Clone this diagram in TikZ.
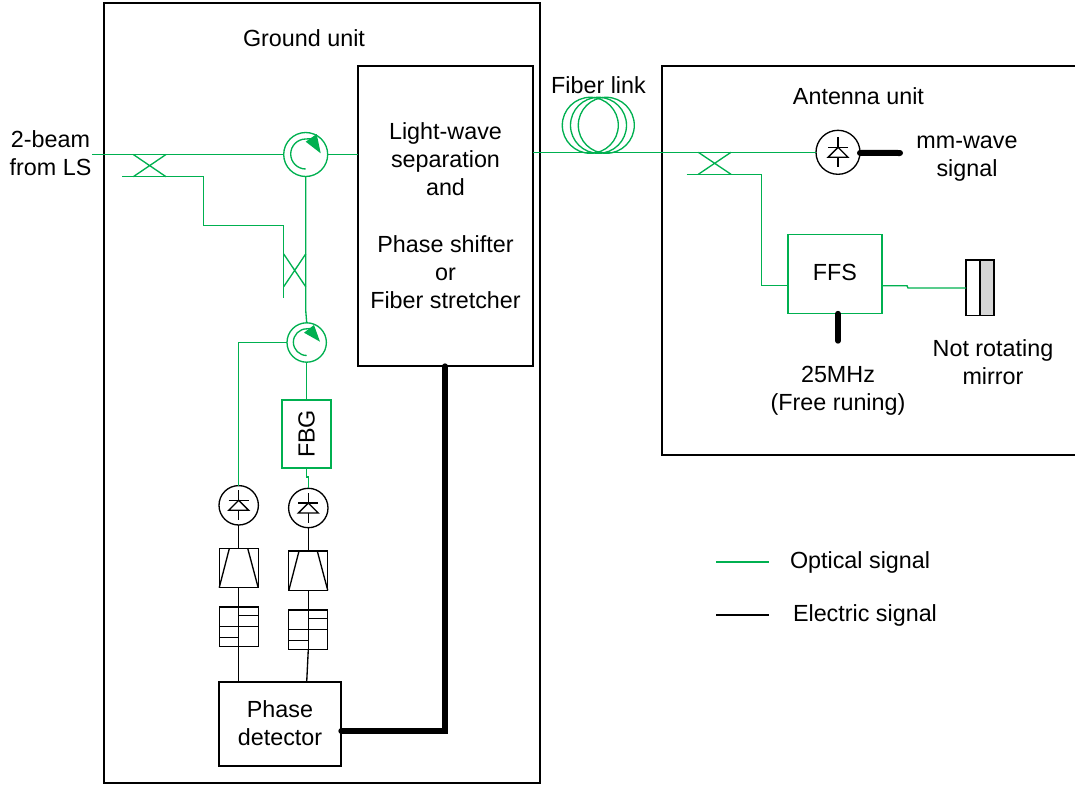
\documentclass[tikz,border=0pt]{standalone}
\usepackage{fontspec}
\setmainfont{Liberation Sans}
\begin{document}
\begin{tikzpicture}[x=0.75pt,y=-0.75pt,
  every node/.style={inner sep=0pt,outer sep=0pt,font=\fontsize{17.5}{21}\selectfont,align=center},
  glink/.style={draw=optgreen,line width=1pt},
  blink/.style={draw=black,line width=1pt},
  thick link/.style={draw=black,line width=4pt,line cap=round},
  blackbox/.style={draw=black,line width=1pt,rectangle},
  greenbox/.style={draw=optgreen,line width=1pt,rectangle},
  ringnode/.style={draw=optgreen,line width=1pt,circle,minimum size=#1*0.75pt},
  pdnode/.style={draw=black,line width=1pt,circle,fill=white,minimum size=#1*0.75pt},
  coilnode/.style={draw=optgreen,line width=1pt,circle,minimum size=42pt}
]
\definecolor{optgreen}{HTML}{00B050}
\useasboundingbox (0,0) rectangle (1075,785);

% ---------- frames
\node[blackbox,minimum width=327pt,minimum height=585pt] (ground) at (322,393) {};
\node[blackbox,minimum width=131.25pt,minimum height=225pt] (sep) at (445.5,216) {};
\node (septext) at (445.5,215.7) {Light-wave\\separation\\and\\[21.7pt]Phase shifter\\or\\Fiber stretcher};
\draw[line width=1pt] (1080,66) -- (662,66) -- (662,455) -- (1080,455);

% ---------- labels
\node (tground) at (304,38) {Ground unit};
\node (tbeam) at (50.5,153) {2-beam\\from LS};
\node (tfiber) at (598.5,85) {Fiber link};
\node (tant) at (858.5,96) {Antenna unit};
\node (tmm) at (967,154.5+4) {mm-wave\\signal};
\node (t25) at (838,391) {25MHz\\(Free runing)};
\node (tmir) at (993,362) {Not rotating\\mirror};
\node[anchor=west] (topt) at (790,562.5) {Optical signal};
\node[anchor=west] (tel) at (793,615.5) {Electric signal};

% ---------- fiber coil
\node[coilnode] (coila) at (590.3,125.3) {};
\node[coilnode] (coilb) at (598.5,125.3) {};
\node[coilnode] (coilc) at (606.3,125.3) {};

% ---------- circulators
\node[ringnode=44] (circa) at (305.7,154.5) {};
\node[ringnode=39.4] (circb) at (306.7,342.5) {};
\draw[glink] (305.7,169) arc (-90:-270:11.25pt) -- ++(8,-0.5);
\fill[optgreen] (305.7,141.7) -- (316.7,134) -- (320.7,153.3) -- cycle;
\draw[glink] (306.7,355.5) arc (-90:-270:10pt) -- ++(6,-0.5);
\fill[optgreen] (304,332.7) -- (314,325) -- (320,341.7) -- cycle;

% ---------- FBG, FFS, mirror
\node[greenbox,minimum width=36.75pt,minimum height=51pt] (fbg) at (306.5,434) {\rotatebox{90}{FBG}};
\node[greenbox,minimum width=70.5pt,minimum height=59.25pt] (ffs) at (835,274) {};
\node (ffstext) at (835,272.5) {FFS};
\node[blackbox,minimum width=10.5pt,minimum height=41.5pt] (mirl) at (973,287.7) {};
\node[blackbox,fill=black!16,minimum width=10.5pt,minimum height=41.5pt] (mirr) at (987,287.7) {};

% ---------- photodiodes
\foreach \n/\cx/\cy/\d in {pda/238.7/505.3/39.4,pdb/308.3/508/39.4,pdc/838/152.3/44}{
  \node[pdnode=\d] (\n) at (\cx,\cy) {};
  \draw[line width=1pt] (\cx,\cy-15) -- (\cx,\cy+15);
  \draw[line width=1pt] (\cx-10,\cy-5) -- (\cx+10,\cy-5);
  \draw[line width=1pt,fill=white] (\cx,\cy-5) -- (\cx+10,\cy+5) -- (\cx-10,\cy+5) -- cycle;
}

% ---------- amplifiers
\foreach \n/\cx/\cy in {ampa/238.7/568,ampb/308.3/570.8}{
  \node[blackbox,minimum width=29.25pt,minimum height=29.5pt] (\n) at (\cx,\cy) {};
  \draw[line width=1pt] (\cx-19.5,\cy+19.7) -- (\cx-9.3,\cy-19.7);
  \draw[line width=1pt] (\cx+19.5,\cy+19.7) -- (\cx+9,\cy-19.7);
}

% ---------- filters
\foreach \n/\cx/\cy in {fila/238.7/626.7,filb/308.3/629.7}{
  \node[blackbox,minimum width=29.25pt,minimum height=29.5pt] (\n) at (\cx,\cy) {};
  \draw[line width=1pt] (\cx,\cy-19.7) -- (\cx,\cy+19.7);
  \draw[line width=1pt] (\cx-19.5,\cy) -- (\cx+19.5,\cy);
  \draw[line width=1pt] (\cx-19.5,\cy+11) -- (\cx,\cy+11);
  \draw[line width=1pt] (\cx,\cy-11) -- (\cx+19.5,\cy-11);
}

\node[blackbox,minimum width=91.5pt,minimum height=63pt] (pdet) at (280,724) {};
\node (pdettext) at (280,723) {Phase\\detector};

% ---------- free ends
\coordinate (inp) at (92,154.5);
\coordinate (cpabl) at (122,176.7);
\coordinate (cpabr) at (177.7,176.7);
\coordinate (cpbbl) at (283.7,298.3);
\coordinate (cpcbl) at (686.7,174.3);
\coordinate (cpcbr) at (742.7,174.3);

% ---------- optical connections
\draw[glink] (inp) -- (circa.west);
\draw[glink] (circa.east) -- (sep.west |- circa.east);
\draw[glink] (133.3,154.5) -- (166,176.7) (166,154.5) -- (133.3,176.7);
\draw[glink] (cpabl) -- (cpabr) -- (203.3,176.7) -- (203.3,225.5) -- (283.7,225.5) -- (cpbbl);
\draw[glink] (circa.south) -- (305.7,310) -- (circb.north);
\draw[glink] (283.7,254) -- (305.7,286.7) (305.7,254) -- (283.7,286.7);
\draw[glink] (circb.west) -- (238.7,342.5) -- (pda.north);
\draw[glink] (circb.south) -- (fbg.north -| circb.south);
\draw[glink] (fbg.south) -- (306.5,477) -- (308.3,477) -- (pdb.north);
\draw[glink] (sep.east |- pdc.west) -- (pdc.west);
\draw[glink] (698.3,152.3) -- (731,174.3) (731,152.3) -- (698.3,174.3);
\draw[glink] (cpcbl) -- (cpcbr) -- (761.3,174.3) -- (761.3,285.7) -- (ffs.west |- 0,285.7);
\draw[glink] (ffs.east |- 0,285.7) -- (907,285.7) -- (908,288) -- (mirl.west |- 0,288);

% ---------- electric connections
\draw[blink] (pda.south) -- (ampa.north);
\draw[blink] (pdb.south) -- (ampb.north);
\draw[blink] (ampa.south) -- (fila.north);
\draw[blink] (ampb.south) -- (filb.north);
\draw[blink] (fila.south) -- (pdet.north -| fila.south);
\draw[blink] (filb.south) -- (306.7,682);
\draw[thick link] (pdet.east |- 0,731) -- (445,731) -- (sep.south -| 445,0);
\draw[thick link,line width=4.5pt] ([yshift=-0.5pt]pdc.east) -- (900,153);
\draw[thick link] (ffs.south -| 838,0) -- (838,341);

% ---------- legend
\coordinate (lga) at (716,562);
\coordinate (lgb) at (769,562);
\coordinate (lgc) at (716,615);
\coordinate (lgd) at (769,615);
\draw[glink] (lga) -- (lgb);
\draw[blink] (lgc) -- (lgd);
\end{tikzpicture}
\end{document}
